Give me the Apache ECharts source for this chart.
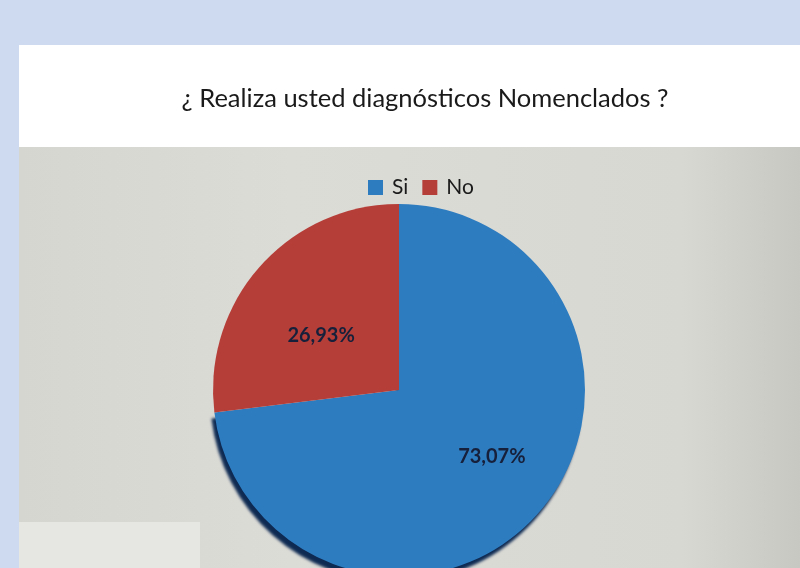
<!DOCTYPE html>
<html>
<head>
<meta charset="utf-8">
<script src="https://cdn.jsdelivr.net/npm/echarts@6/dist/echarts.min.js"></script>
<style>
html,body{margin:0;padding:0;background:#cddaf0;}
#chart{width:800px;height:568px;}
</style>
</head>
<body>
<div id="chart"></div>
<script>
var titleText = '¿ Realiza usted diagnósticos Nomenclados ?';
var categories = ['Si', 'No'];
var values = [73.07, 26.93];
var labels = ['73,07%', '26,93%'];
var colors = ['#2e7cc0', '#b63e39'];

var chart = echarts.init(document.getElementById('chart'));
var data = categories.map(function (c, i) {
  var item = { name: c, value: values[i], itemStyle: { color: colors[i] },
    label: { formatter: labels[i] } };
  if (i === 0) {
    item.itemStyle.shadowColor = '#0e2a52';
    item.itemStyle.shadowOffsetX = -3;
    item.itemStyle.shadowOffsetY = 6;
    item.itemStyle.shadowBlur = 3;
    item.label.offset = [21, 3];
  } else {
    item.label.offset = [-6, 9];
  }
  return item;
});

chart.setOption({
  backgroundColor: '#cddaf0',
  graphic: [
    { type: 'rect', z: -10, shape: { x: 19, y: 45, width: 781, height: 102 }, style: { fill: '#ffffff' } },
    { type: 'rect', z: -10, shape: { x: 19, y: 147, width: 781, height: 421 },
      style: { fill: new echarts.graphic.LinearGradient(0, 0, 1, 0, [
        { offset: 0, color: '#d6d6d1' }, { offset: 0.35, color: '#dcdcd7' },
        { offset: 0.85, color: '#d8d8d2' }, { offset: 1, color: '#c8c8c2' }
      ]) } },
    { type: 'rect', z: -9, shape: { x: 19, y: 522, width: 181, height: 46 }, style: { fill: '#e6e6e2' } }
  ],
  title: {
    text: titleText,
    left: 420, top: 81, textAlign: 'center',
    textStyle: { fontFamily: 'Lato', fontSize: 25.5, fontWeight: 'normal', color: '#1a1a1a' }
  },
  legend: {
    data: categories,
    top: 172, left: 363,
    itemWidth: 15, itemHeight: 15, itemGap: 14,
    icon: 'rect',
    textStyle: { fontFamily: 'Lato', fontSize: 21, color: '#1a1a1a', padding: [0, 0, 0, 4] }
  },
  series: [{
    type: 'pie',
    center: [399, 390],
    radius: 186,
    startAngle: 90,
    clockwise: true,
    animation: false,
    data: data,
    label: {
      show: true, position: 'inside',
      fontFamily: 'Lato', fontSize: 20, fontWeight: 'bold', color: '#17203a'
    },
    labelLine: { show: false },
    emphasis: { disabled: true }
  }]
});
</script>
</body>
</html>
